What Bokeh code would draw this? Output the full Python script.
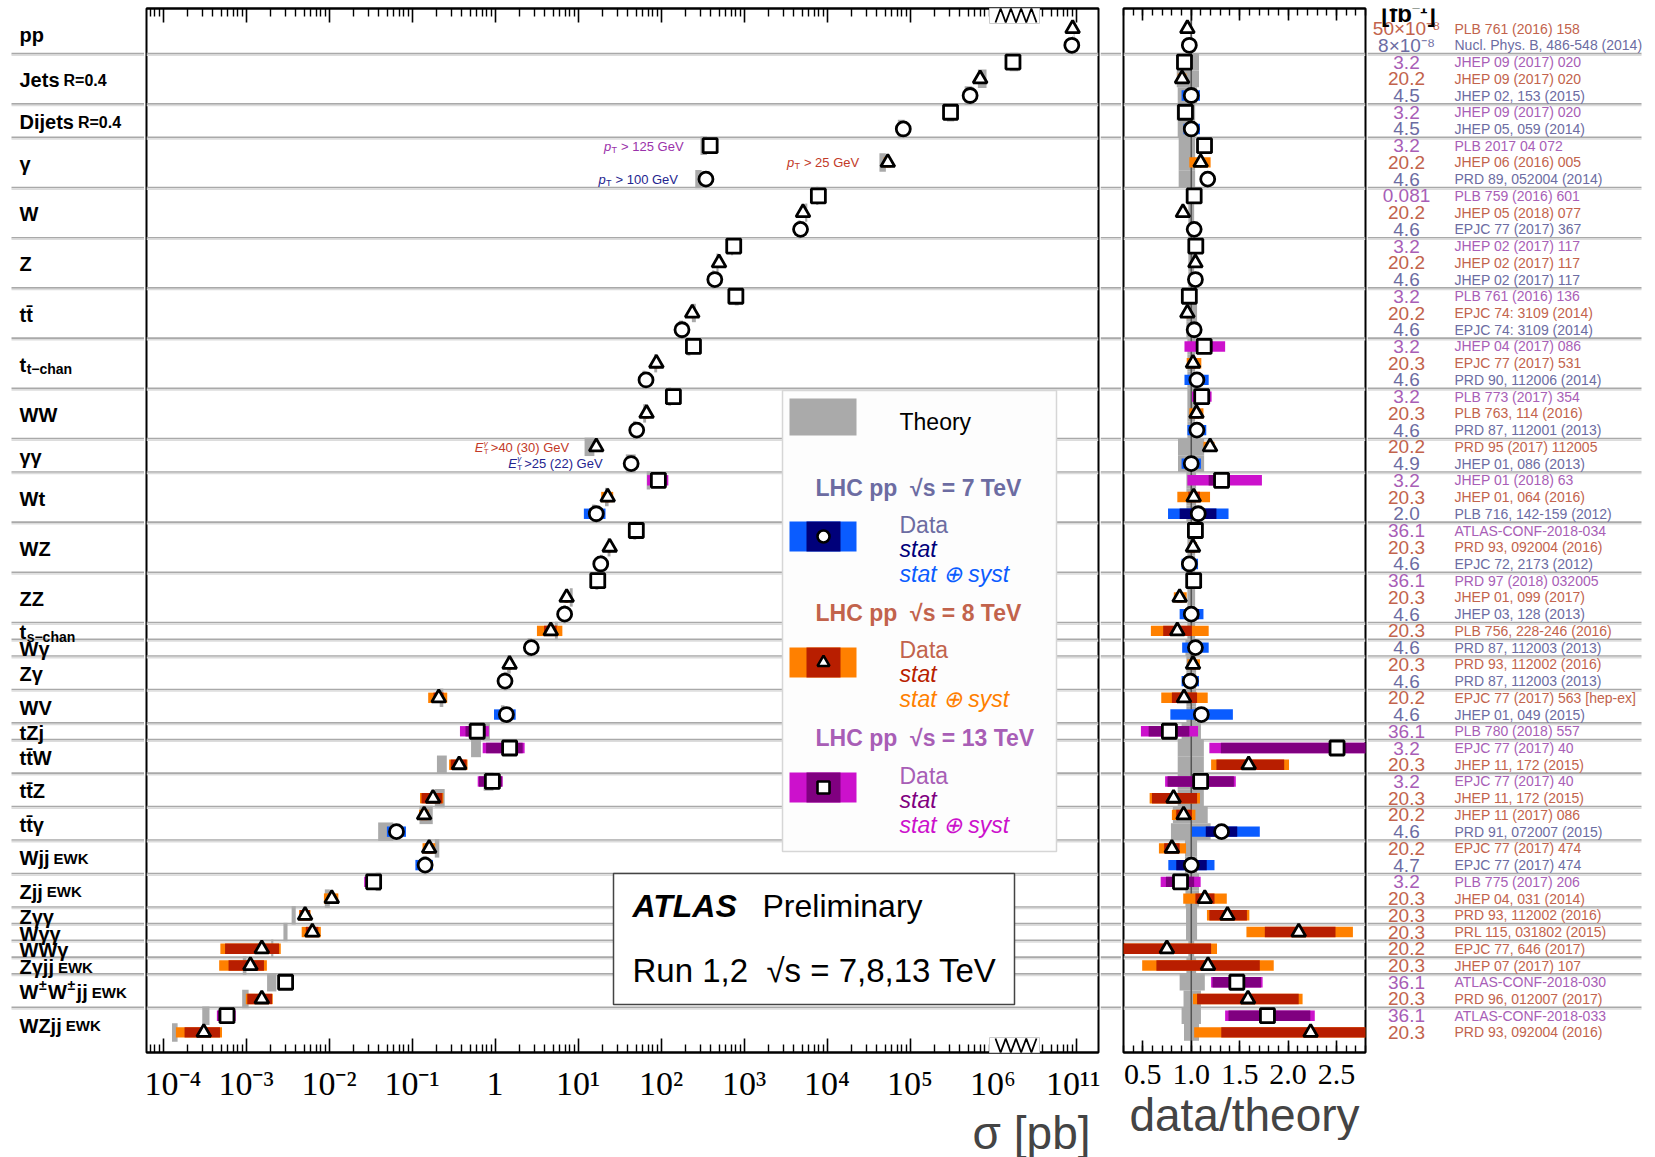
import math
from bokeh.plotting import figure
from bokeh.models import (ColumnDataSource, Range1d, LinearAxis, FixedTicker, Title,
                          NumeralTickFormatter, Label)
from bokeh.layouts import row
from bokeh.core.properties import value, field
from bokeh.embed import file_html
from bokeh.resources import INLINE

# ---------------------------------------------------------------- data
group_names = ["pp", "Jets", "Dijets", "γ", "W", "Z", "tt\u0304", "t", "WW", "γγ", "Wt", "WZ", "ZZ",
               "t", "Wγ", "Zγ", "WV", "tZj", "tt\u0304W", "tt\u0304Z", "tt\u0304γ", "Wjj", "Zjj",
               "Zγγ", "Wγγ", "WWγ", "Zγjj", "W±W±jj", "WZjj"]
group_suffix = ["", "R=0.4", "R=0.4", "", "", "", "", "t\u2212chan", "", "", "", "", "",
                "s\u2212chan", "", "", "", "", "", "", "", "EWK", "EWK", "", "", "", "EWK", "EWK", "EWK"]
group_size = [2, 3, 2, 3, 3, 3, 3, 3, 3, 2, 3, 3, 3, 1, 1, 2, 2, 1, 2, 2, 2, 2, 2, 1, 1, 1, 1, 2, 2]

energy = [8, 7, 13, 8, 7, 13, 7, 13, 8, 7, 13, 8, 7, 13, 8, 7, 13, 8, 7, 13, 8, 7, 13, 8, 7,
          8, 7, 13, 8, 7, 13, 8, 7, 13, 8, 7, 8, 7, 8, 7, 8, 7, 13, 13, 8, 13, 8, 8, 7, 8, 7,
          13, 8, 8, 8, 8, 8, 13, 8, 13, 8]

sigma_pb = [9.1e10, 8.9e10, 1.74e6, 7.0e5, 5.3e5, 3.08e5, 8.3e4, 391, 5.4e4, 348, 7870, 5140, 4800,
            752, 500, 445, 798, 238, 179, 246, 88, 66, 141, 67, 51, 16.6, 43.7, 93, 22.8, 16.6,
            50.4, 24.1, 18.8, 17.3, 7.3, 6.9, 4.7, 2.74, 1.50, 1.32, 0.21, 1.37, 0.61, 1.50, 0.37,
            0.93, 0.179, 0.14, 0.065, 0.161, 0.144, 0.0345, 0.0108, 0.00515, 0.0063, 0.00155,
            0.00113, 0.0030, 0.00155, 5.9e-4, 3.1e-4]

ratio = [0.96, 0.98, 0.93, 0.905, 1.0, 0.94, 1.0, 1.137, 1.097, 1.17, 1.03, 0.914, 1.03,
         1.047, 1.043, 1.043, 0.98, 0.96, 1.03, 1.133, 1.018, 1.058, 1.108, 1.054, 1.058,
         1.194, 1.0, 1.313, 1.025, 1.072, 1.043, 1.018, 0.98, 1.025, 0.88, 1.0, 0.856, 1.043,
         1.018, 0.99, 0.925, 1.104, 0.774, 2.506, 1.593, 1.097, 0.817, 0.921, 1.313, 0.80, 1.0,
         0.889, 1.14, 1.374, 2.11, 0.748, 1.173, 1.471, 1.586, 1.787, 2.233]
stat_lo = [0.955, 0.975, 0.925, 0.895, 0.99, 0.935, 0.99, 1.13, 1.09, 1.165, 1.028, 0.91, 1.028,
           1.045, 1.041, 1.041, 0.975, 0.955, 1.025, 1.05, 0.99, 1.0, 1.08, 1.03, 1.02, 1.17, 0.97,
           1.18, 0.97, 0.88, 1.02, 0.99, 0.94, 1.0, 0.85, 0.93, 0.71, 0.98, 0.99, 0.95, 0.80, 1.04,
           0.56, 1.306, 1.26, 0.755, 0.594, 0.845, 1.15, 0.72, 0.845, 0.738, 1.043, 1.187, 1.76,
           0.27, 0.64, 1.22, 1.06, 1.385, 1.31]
stat_hi = [0.965, 0.985, 0.935, 0.915, 1.01, 0.945, 1.01, 1.145, 1.105, 1.175, 1.032, 0.918, 1.032,
           1.049, 1.045, 1.045, 0.985, 0.965, 1.035, 1.22, 1.05, 1.12, 1.14, 1.08, 1.09, 1.22, 1.03,
           1.40, 1.09, 1.26, 1.06, 1.04, 1.02, 1.05, 0.91, 1.08, 1.007, 1.1, 1.05, 1.03, 1.06, 1.17,
           0.98, 3.6, 1.96, 1.44, 1.06, 1.007, 1.475, 0.88, 1.16, 1.03, 1.24, 1.575, 2.49,
           1.205, 1.708, 1.72, 2.11, 2.23, 3.5]
tot_lo = [0.95, 0.97, 0.90, 0.86, 0.90, 0.91, 0.92, 1.10, 0.98, 1.13, 1.0, 0.88, 1.01,
          1.02, 1.02, 1.02, 0.94, 0.93, 0.99, 0.93, 0.953, 0.93, 1.007, 0.98, 0.96, 1.126, 0.90,
          0.96, 0.856, 0.76, 1.0, 0.98, 0.90, 0.98, 0.82, 0.88, 0.583, 0.906, 0.96, 0.90, 0.69, 0.784,
          0.48, 1.187, 1.205, 0.73, 0.57, 0.80, 1.007, 0.666, 0.763, 0.684, 0.917, 1.162, 1.57,
          0.237, 0.493, 1.205, 1.018, 1.35, 1.03]
tot_hi = [0.97, 0.99, 0.96, 0.95, 1.09, 0.97, 1.09, 1.17, 1.2, 1.21, 1.06, 0.95, 1.05,
          1.07, 1.065, 1.065, 1.02, 0.99, 1.07, 1.35, 1.104, 1.18, 1.21, 1.126, 1.155, 1.24, 1.10,
          1.73, 1.194, 1.385, 1.08, 1.06, 1.07, 1.07, 0.953, 1.126, 1.18, 1.18, 1.09, 1.08, 1.17, 1.43,
          1.07, 3.8, 2.01, 1.46, 1.09, 1.043, 1.708, 0.946, 1.24, 1.097, 1.367, 1.6, 2.67,
          1.266, 1.852, 1.737, 2.15, 2.276, 3.7]
theo_lo = [0.99, 0.99, 0.85, 0.85, 0.86, 0.85, 0.86, 0.87, 0.87, 0.87, 0.97, 0.97, 0.97,
           0.97, 0.97, 0.97, 0.95, 0.95, 0.95, 0.96, 0.96, 0.96, 0.96, 0.96, 0.96, 0.863, 0.863,
           0.95, 0.95, 0.95, 0.96, 0.96, 0.96, 0.96, 0.96, 0.96, 0.96, 0.94, 0.95, 0.95, 0.95, 0.95,
           0.9, 0.86, 0.86, 0.86, 0.86, 0.81, 0.79, 0.935, 0.935, 0.94, 0.94, 0.946, 0.946,
           0.97, 0.95, 0.88, 0.92, 0.9, 0.925]
theo_hi = [1.01, 1.01, 1.08, 1.08, 1.06, 1.04, 1.04, 1.04, 1.04, 1.04, 1.03, 1.03, 1.03,
           1.03, 1.03, 1.03, 1.06, 1.06, 1.06, 1.04, 1.04, 1.04, 1.04, 1.04, 1.04, 1.133, 1.133,
           1.05, 1.05, 1.05, 1.04, 1.04, 1.04, 1.04, 1.04, 1.04, 1.04, 1.06, 1.05, 1.05, 1.05, 1.05,
           1.1, 1.13, 1.13, 1.13, 1.13, 1.17, 1.2, 1.06, 1.06, 1.08, 1.08, 1.06, 1.06,
           1.03, 1.05, 1.14, 1.1, 1.1, 1.08]

lumi = ["50×10⁻⁸", "8×10⁻⁸", "3.2", "20.2", "4.5", "3.2", "4.5", "3.2", "20.2", "4.6", "0.081",
        "20.2", "4.6", "3.2", "20.2", "4.6", "3.2", "20.2", "4.6", "3.2", "20.3", "4.6", "3.2",
        "20.3", "4.6", "20.2", "4.9", "3.2", "20.3", "2.0", "36.1", "20.3", "4.6", "36.1", "20.3",
        "4.6", "20.3", "4.6", "20.3", "4.6", "20.2", "4.6", "36.1", "3.2", "20.3", "3.2", "20.3",
        "20.2", "4.6", "20.2", "4.7", "3.2", "20.3", "20.3", "20.3", "20.2", "20.3", "36.1",
        "20.3", "36.1", "20.3"]
refs = ["PLB 761 (2016) 158", "Nucl. Phys. B, 486-548 (2014)", "JHEP 09 (2017) 020",
        "JHEP 09 (2017) 020", "JHEP 02, 153 (2015)", "JHEP 09 (2017) 020", "JHEP 05, 059 (2014)",
        "PLB 2017 04 072", "JHEP 06 (2016) 005", "PRD 89, 052004 (2014)", "PLB 759 (2016) 601",
        "JHEP 05 (2018) 077", "EPJC 77 (2017) 367", "JHEP 02 (2017) 117", "JHEP 02 (2017) 117",
        "JHEP 02 (2017) 117", "PLB 761 (2016) 136", "EPJC 74: 3109 (2014)", "EPJC 74: 3109 (2014)",
        "JHEP 04 (2017) 086", "EPJC 77 (2017) 531", "PRD 90, 112006 (2014)", "PLB 773 (2017) 354",
        "PLB 763, 114 (2016)", "PRD 87, 112001 (2013)", "PRD 95 (2017) 112005",
        "JHEP 01, 086 (2013)", "JHEP 01 (2018) 63", "JHEP 01, 064 (2016)",
        "PLB 716, 142-159 (2012)", "ATLAS-CONF-2018-034", "PRD 93, 092004 (2016)",
        "EPJC 72, 2173 (2012)", "PRD 97 (2018) 032005", "JHEP 01, 099 (2017)",
        "JHEP 03, 128 (2013)", "PLB 756, 228-246 (2016)", "PRD 87, 112003 (2013)",
        "PRD 93, 112002 (2016)", "PRD 87, 112003 (2013)", "EPJC 77 (2017) 563 [hep-ex]",
        "JHEP 01, 049 (2015)", "PLB 780 (2018) 557", "EPJC 77 (2017) 40", "JHEP 11, 172 (2015)",
        "EPJC 77 (2017) 40", "JHEP 11, 172 (2015)", "JHEP 11 (2017) 086", "PRD 91, 072007 (2015)",
        "EPJC 77 (2017) 474", "EPJC 77 (2017) 474", "PLB 775 (2017) 206", "JHEP 04, 031 (2014)",
        "PRD 93, 112002 (2016)", "PRL 115, 031802 (2015)", "EPJC 77, 646 (2017)",
        "JHEP 07 (2017) 107", "ATLAS-CONF-2018-030", "PRD 96, 012007 (2017)",
        "ATLAS-CONF-2018-033", "PRD 93, 092004 (2016)"]

x_tick_exponents = [-4, -3, -2, -1, 0, 1, 2, 3, 4, 5, 6, 11]
ratio_ticks = [0.5, 1.0, 1.5, 2.0, 2.5]

# ---------------------------------------------------------------- style
SYST = {7: "#0a5cff", 8: "#ff8000", 13: "#cc11cc"}
STAT = {7: "#00007a", 8: "#b81e00", 13: "#800080"}
TXT = {7: "#6c6ca2", 8: "#c2634c", 13: "#a85eb6"}
MK = {7: "circle", 8: "triangle", 13: "square"}
THEO = "#aaaaaa"
SANS = value("Liberation Sans")
SERIF = "Liberation Serif"
NB = "\u00a0"

N = len(sigma_pb)
ROWS_TOP, ROWS_BOT = -1.2, N - 1 + 1.2
FRAME_TOP, FRAME_H = 8, 1044
ROW_PX = FRAME_H / (ROWS_BOT - ROWS_TOP)

BREAK_AT, BREAK_SHIFT = 8.0, 4.0   # log10 sigma beyond which the axis jumps


def to_axis(s):
    lg = math.log10(s)
    return lg - BREAK_SHIFT if lg > BREAK_AT else lg


MAIN_LEFT, MAIN_W = 146, 952
XMIN = (MAIN_LEFT - 494.5) / 83.0
XMAX = XMIN + MAIN_W / 83.0


def mx(px):
    return XMIN + (px - MAIN_LEFT) / MAIN_W * (XMAX - XMIN)


def my(py):
    return ROWS_TOP + (py - FRAME_TOP) / ROW_PX


boundaries = []
acc = 0
centers = []
for n in group_size:
    centers.append(acc + (n - 1) / 2)
    acc += n
    boundaries.append(acc - 0.5)
boundaries = boundaries[:-1]


def mkfig(fw, xr, top=FRAME_TOP, left=0, right=0):
    f = figure(frame_width=fw, frame_height=FRAME_H, x_range=xr,
               y_range=Range1d(ROWS_BOT, ROWS_TOP),
               x_axis_location=None, y_axis_location=None, toolbar_location=None,
               output_backend="svg", min_border_top=top, min_border_left=left,
               min_border_right=right, min_border_bottom=0, outline_line_color=None,
               background_fill_color="white", border_fill_color="white")
    f.grid.visible = False
    return f


def add_separators(f, x0, x1):
    ys = boundaries
    f.segment(x0=[x0] * len(ys), x1=[x1] * len(ys), y0=ys, y1=ys,
              line_color="#a9a9a9", line_width=1.6)
    ys2 = [y + 1.6 / ROW_PX for y in ys]
    f.segment(x0=[x0] * len(ys), x1=[x1] * len(ys), y0=ys2, y1=ys2,
              line_color="#dcdcdc", line_width=1.6)


def style_axis(ax, maj, mnr, size, hide=False):
    ax.major_tick_in = maj
    ax.major_tick_out = 0
    ax.minor_tick_in = mnr
    ax.minor_tick_out = 0
    ax.axis_line_color = "black"
    ax.axis_line_width = 2
    ax.major_tick_line_width = 1.6
    ax.minor_tick_line_width = 1.4
    ax.major_label_text_font = SERIF
    ax.major_label_text_color = "black"
    if hide:
        ax.major_label_text_font_size = "1px"
        ax.major_label_standoff = 0
    else:
        ax.major_label_text_font_size = f"{size}px"
        ax.major_label_standoff = 12


# ---------------------------------------------------------------- label column
pa = mkfig(144, Range1d(0, 144))
add_separators(pa, 11, 144)
FS_LAB = 20
W_EM = {"W": .944, "Z": .611, "J": .556, "e": .556, "t": .333, "s": .556, "D": .722, "i": .278,
        "j": .278, "p": .611, "γ": .556, "±": .584, "V": .667, "\u0304": 0.0}


def tw(s, fs):
    return sum(W_EM.get(c, .6) for c in s) * fs


base_y = [c + 1.5 / ROW_PX for c in centers]
base_y[0] -= 3 / ROW_PX
lx, ly, lt = [], [], []
pmx, pmy = [], []
end_x = []
for i, nm in enumerate(group_names):
    x = 19.0
    parts = nm.split("±")
    for j, part in enumerate(parts):
        lx.append(x)
        ly.append(base_y[i])
        lt.append(part)
        x += tw(part, FS_LAB)
        if j < len(parts) - 1:
            pmx.append(x + 0.5)
            pmy.append(base_y[i] - 7 / ROW_PX)
            x += 0.584 * 14 + 1.5
    end_x.append(x)
pa.text(x=lx, y=ly, text=lt, text_font=SANS, text_font_size="20px", text_font_style="bold",
        text_color="black", text_baseline="alphabetic", text_align="left")
pa.text(x=pmx, y=pmy, text=["±"] * len(pmx), text_font=SANS, text_font_size="14px",
        text_font_style="bold", text_color="black", text_baseline="alphabetic", text_align="left")
sx, sy, st, sfs = [], [], [], []
for i, suf in enumerate(group_suffix):
    if not suf:
        continue
    if "chan" in suf:
        sx.append(end_x[i] + 0.5)
        sy.append(base_y[i] + 4.5 / ROW_PX)
        sfs.append("14px")
    else:
        sx.append(end_x[i] + 4)
        sy.append(base_y[i])
        sfs.append("16px" if suf.startswith("R") else "15px")
    st.append(suf)
pa.text(x=sx, y=sy, text=st, text_font=SANS, text_font_size=sfs, text_font_style="bold",
        text_color="black", text_baseline="alphabetic", text_align="left")

# ---------------------------------------------------------------- main panel
pm = mkfig(MAIN_W, Range1d(XMIN, XMAX), left=2, right=2)
pm.outline_line_color = "black"
pm.outline_line_width = 2
add_separators(pm, XMIN, XMAX)

sup = str.maketrans("-0123456789", "⁻⁰¹²³⁴⁵⁶⁷⁸⁹")
major_pos, overrides = [], {}
for e in x_tick_exponents:
    pos = e if e <= BREAK_AT else e - BREAK_SHIFT
    major_pos.append(pos)
    overrides[pos] = "1" if e == 0 else "10" + str(e).translate(sup)
BRK0, BRK1 = mx(989), mx(1039)
minor_pos = []
for n in range(-5, 12):
    for k in range(2, 10):
        t = n + math.log10(k)
        if n <= 5 and XMIN < t < XMAX and t < BRK0:
            minor_pos.append(t)
        if n == 10 and k >= 4:
            minor_pos.append(t - BREAK_SHIFT)

for loc, hide in (("below", False), ("above", True)):
    ax = LinearAxis(ticker=FixedTicker(ticks=major_pos, minor_ticks=minor_pos),
                    major_label_overrides=dict(overrides) if not hide else {p: "" for p in major_pos})
    style_axis(ax, 14, 8, 34, hide)
    pm.add_layout(ax, loc)
pm.add_layout(Title(text="σ [pb]", align="right", text_font="Liberation Sans",
                    text_font_size="46px", text_font_style="normal", offset=8, standoff=0), "below")

ms = dict(y=list(range(N)), x=[], th_l=[], th_r=[], tot_l=[], tot_r=[], st_l=[], st_r=[],
          mk=[], syst=[], stat=[])
for i in range(N):
    s, r = sigma_pb[i], ratio[i]
    th = s / r
    ms["x"].append(to_axis(s))
    ms["th_l"].append(to_axis(th * theo_lo[i]))
    ms["th_r"].append(to_axis(th * theo_hi[i]))
    ms["tot_l"].append(to_axis(th * tot_lo[i]))
    ms["tot_r"].append(to_axis(th * tot_hi[i]))
    ms["st_l"].append(to_axis(th * stat_lo[i]))
    ms["st_r"].append(to_axis(th * stat_hi[i]))
    ms["mk"].append(MK[energy[i]])
    ms["syst"].append(SYST[energy[i]])
    ms["stat"].append(STAT[energy[i]])
msrc = ColumnDataSource(ms)
pm.hbar(y="y", left="th_l", right="th_r", height=1.1, fill_color=THEO, line_color=None, source=msrc)
pm.hbar(y="y", left="tot_l", right="tot_r", height=0.62, fill_color="syst", line_color=None, source=msrc)
pm.hbar(y="y", left="st_l", right="st_r", height=0.62, fill_color="stat", line_color=None, source=msrc)
pm.scatter(x="x", y="y", marker=field("mk"), size=14, fill_color="white", line_color="black",
           line_width=2.8, source=msrc)


def ptext(f, px, py, txt, color, size, style="normal", align="left", baseline="middle", font=SANS):
    f.text(x=[mx(px)], y=[my(py)], text=[txt], text_color=color, text_font=font,
           text_font_size=f"{size}px", text_font_style=style, text_align=align,
           text_baseline=baseline)


# pT / ET annotations
for x0, yc, rest, col in ((603.6, 145.5, "> 125 GeV", "#9a32aa"), (786.4, 162.0, "> 25 GeV", "#c23a28"),
                          (598.0, 178.5, "> 100 GeV", "#24248e")):
    ptext(pm, x0, yc, "p", col, 13, "italic")
    ptext(pm, x0 + 7.5, yc + 3.5, "T", col, 9)
    ptext(pm, x0 + 17, yc, rest, col, 13)
for x0, yc, rest, col in ((474.3, 447.0, ">40 (30) GeV", "#c23a28"), (507.7, 462.7, ">25 (22) GeV", "#24248e")):
    ptext(pm, x0, yc, "E", col, 13, "italic")
    ptext(pm, x0 + 9, yc - 4.5, "γ", col, 8, "italic")
    ptext(pm, x0 + 9, yc + 4, "T", col, 8)
    ptext(pm, x0 + 16, yc, rest, col, 13)

# legend box
pm.quad(left=mx(782), right=mx(1056), top=my(390), bottom=my(851), fill_color="#fdfdfd",
        line_color="#d6d6d6", line_width=1.5)
pm.quad(left=mx(789), right=mx(856), top=my(398), bottom=my(435), fill_color=THEO, line_color=None)
ptext(pm, 899, 421.5, "Theory", "black", 23)
for e, yh, yb, yd in ((7, 487, 536, 524), (8, 612, 662, 649), (13, 737, 787, 775)):
    ptext(pm, 815, yh, f"LHC pp{NB}{NB}√s = {e} TeV", TXT[e], 23, "bold")
    pm.quad(left=mx(789), right=mx(856), top=my(yb - 15), bottom=my(yb + 15),
            fill_color=SYST[e], line_color=None)
    pm.quad(left=mx(806), right=mx(840), top=my(yb - 15), bottom=my(yb + 15),
            fill_color=STAT[e], line_color=None)
    pm.scatter(x=[mx(823)], y=[my(yb)], marker=MK[e], size=12, fill_color="white",
               line_color="black", line_width=2.6)
    ptext(pm, 899, yd, "Data", TXT[e], 23)
    ptext(pm, 899, yd + 24.5, "stat", STAT[e], 23, "italic")
    ptext(pm, 899, yd + 49, "stat ⊕ syst", SYST[e], 23, "italic")

# ATLAS box
pm.quad(left=mx(613), right=mx(1014), top=my(873), bottom=my(1004), fill_color="white",
        line_color="#444444", line_width=1.5)
ptext(pm, 632, 905, "ATLAS", "black", 32, "bold italic")
ptext(pm, 762, 905, "Preliminary", "black", 32)
ptext(pm, 632, 970, f"Run 1,2{NB}{NB}√s = 7,8,13 TeV", "black", 33)

# axis break marks
zig_x = [mx(995 + 41 * k / 8) for k in range(9)]
dep = 14 / ROW_PX
brk = []
brk.append(pm.quad(left=BRK0, right=BRK1, top=ROWS_TOP, bottom=ROWS_TOP + 15 / ROW_PX,
                   fill_color="white", line_color="#cccccc", line_width=1))
brk.append(pm.quad(left=BRK0, right=BRK1, top=ROWS_BOT - 15 / ROW_PX, bottom=ROWS_BOT,
                   fill_color="white", line_color="#cccccc", line_width=1))
brk.append(pm.line(x=zig_x, y=[ROWS_TOP + (dep if k % 2 == 0 else 0) for k in range(9)],
                   line_color="black", line_width=1.8))
brk.append(pm.line(x=zig_x, y=[ROWS_BOT - (dep if k % 2 == 0 else 0) for k in range(9)],
                   line_color="black", line_width=1.8))
for rr in brk:
    rr.level = "overlay"

# ---------------------------------------------------------------- gap column
pc = mkfig(21, Range1d(0, 21))
add_separators(pc, 0, 21)

# ---------------------------------------------------------------- ratio panel
pr = mkfig(242, Range1d(0.3, 2.8), left=2, right=2)
pr.outline_line_color = "black"
pr.outline_line_width = 2
add_separators(pr, 0.3, 2.8)
r_minor = [round(0.3 + 0.1 * k, 2) for k in range(26)]
for loc, hide in (("below", False), ("above", True)):
    ax = LinearAxis(ticker=FixedTicker(ticks=ratio_ticks, minor_ticks=r_minor),
                    formatter=NumeralTickFormatter(format="0.0"))
    if hide:
        ax.major_label_overrides = {t: "" for t in ratio_ticks}
    style_axis(ax, 12, 7, 30, hide)
    pr.add_layout(ax, loc)
pr.add_layout(Title(text="data/theory", align="center", text_font="Liberation Sans",
                    text_font_size="46px", text_font_style="normal", standoff=0), "below")

rs = ColumnDataSource(dict(y=list(range(N)), r=ratio, th_l=theo_lo, th_r=theo_hi,
                           tot_l=tot_lo, tot_r=tot_hi, st_l=stat_lo, st_r=stat_hi,
                           mk=ms["mk"], syst=ms["syst"], stat=ms["stat"]))
pr.hbar(y="y", left="th_l", right="th_r", height=1.0, fill_color=THEO, line_color=None, source=rs)
pr.segment(x0=[1.0], x1=[1.0], y0=[ROWS_TOP], y1=[ROWS_BOT], line_color="#555555", line_width=1.5)
pr.hbar(y="y", left="tot_l", right="tot_r", height=0.62, fill_color="syst", line_color=None, source=rs)
pr.hbar(y="y", left="st_l", right="st_r", height=0.62, fill_color="stat", line_color=None, source=rs)
pr.scatter(x="r", y="y", marker=field("mk"), size=14, fill_color="white", line_color="black",
           line_width=2.8, source=rs)

# ---------------------------------------------------------------- text column
pe = mkfig(288, Range1d(0, 288))
add_separators(pe, 0, 274)
tcol = [TXT[e] for e in energy]
pe.text(x=[39] * N, y=list(range(N)), text=lumi, text_color=tcol, text_font=SANS,
        text_font_size="19px", text_align="center", text_baseline="middle")
pe.text(x=[87] * N, y=list(range(N)), text=refs, text_color=tcol, text_font=SANS,
        text_font_size="14px", text_align="left", text_baseline="middle")
pe.add_layout(Label(x=41, y=ROWS_TOP + 5 / ROW_PX, text="[fb⁻¹]", text_color="black",
                    text_font="Liberation Sans", text_font_size="24px", text_font_style="bold",
                    text_align="center", text_baseline="alphabetic"))

layout = row(pa, pm, pc, pr, pe, spacing=0)
open("out.html", "w").write(file_html(layout, INLINE))
